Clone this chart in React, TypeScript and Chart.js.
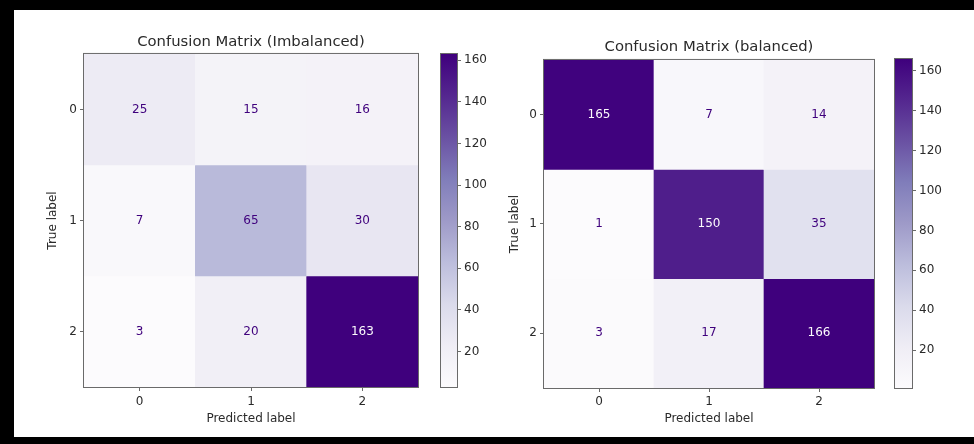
import React, { useEffect, useRef } from 'react';
import { Chart, registerables } from 'chart.js';

Chart.register(...registerables);

// ---------- data ----------
const classLabels = ['0', '1', '2'];

const imbalancedRow0 = [25, 15, 16];
const imbalancedRow1 = [7, 65, 30];
const imbalancedRow2 = [3, 20, 163];

const balancedRow0 = [165, 7, 14];
const balancedRow1 = [1, 150, 35];
const balancedRow2 = [3, 17, 166];

const colorbarTicks = [20, 40, 60, 80, 100, 120, 140, 160];

const imbalancedTitle = 'Confusion Matrix (Imbalanced)';
const balancedTitle = 'Confusion Matrix (balanced)';
const xAxisTitle = 'Predicted label';
const yAxisTitle = 'True label';

// ---------- styling ----------
const FONT = '"DejaVu Sans", "Liberation Sans", sans-serif';
const TXT = '#2a2a2a';
const AXIS = '#6a6a6a';
const PURPLES = ['#fcfbfd', '#efedf5', '#dadaeb', '#bcbddc', '#9e9ac8', '#807dba', '#6a51a3', '#54278f', '#3f007d'];

function hexToRgb(h: string) {
  const n = parseInt(h.slice(1), 16);
  return [(n >> 16) & 255, (n >> 8) & 255, n & 255];
}

function purples(t: number) {
  const tt = Math.max(0, Math.min(1, t));
  const s = tt * (PURPLES.length - 1);
  const i = Math.min(Math.floor(s), PURPLES.length - 2);
  const f = s - i;
  const a = hexToRgb(PURPLES[i]);
  const b = hexToRgb(PURPLES[i + 1]);
  const c = a.map((v, k) => Math.round(v + (b[k] - v) * f));
  return `rgb(${c[0]},${c[1]},${c[2]})`;
}

const framePlugin = {
  id: 'frame',
  afterDraw(chart: any) {
    const { ctx, chartArea } = chart;
    const { left, top, right, bottom } = chartArea;
    ctx.save();
    ctx.strokeStyle = AXIS;
    ctx.lineWidth = 1;
    ctx.strokeRect(left - 0.5, top - 0.5, right - left + 1, bottom - top + 1);
    ctx.restore();
  },
};

type HeatLayout = {
  left: number;
  top: number;
  width: number;
  height: number;
  yWidth: number;
  xHeight: number;
  padRight: number;
  titleTop: number;
  titleBottom: number;
  yTitlePad: number;
  xTitlePad: number;
  xTickPad: number;
};

function Heatmap({ rows, title, L }: { rows: number[][]; title: string; L: HeatLayout }) {
  const ref = useRef<HTMLCanvasElement | null>(null);
  useEffect(() => {
    if (!ref.current) return;
    const all = rows.flat();
    const vmin = Math.min(...all);
    const vmax = Math.max(...all);
    const thresh = (vmin + vmax) / 2;
    const datasets = rows.map((row, r) => ({
      data: row.map(() => [r - 0.5, r + 0.5]),
      backgroundColor: row.map((v) => purples((v - vmin) / (vmax - vmin))),
      grouped: false,
      barPercentage: 1,
      categoryPercentage: 1,
      borderWidth: 0,
    }));
    const cellText = {
      id: 'cellText',
      afterDatasetsDraw(chart: any) {
        const { ctx } = chart;
        const xs = chart.scales.x;
        const ys = chart.scales.y;
        ctx.save();
        ctx.font = `12px ${FONT}`;
        ctx.textAlign = 'center';
        ctx.textBaseline = 'middle';
        rows.forEach((row, r) =>
          row.forEach((v, c) => {
            ctx.fillStyle = v > thresh ? PURPLES[0] : PURPLES[8];
            ctx.fillText(String(v), xs.getPixelForValue(c), ys.getPixelForValue(r));
          })
        );
        ctx.restore();
      },
    };
    const chart = new Chart(ref.current, {
      type: 'bar',
      data: { labels: classLabels, datasets: datasets as any },
      options: {
        animation: false,
        responsive: false,
        maintainAspectRatio: false,
        layout: { padding: { left: 0, top: 0, right: L.padRight, bottom: 0 } },
        plugins: {
          legend: { display: false },
          tooltip: { enabled: false },
          title: {
            display: true,
            fullSize: false,
            text: title,
            color: TXT,
            font: { family: FONT, size: 14.8, weight: 'normal', lineHeight: 1.2 },
            padding: { top: L.titleTop, bottom: L.titleBottom },
          },
        },
        scales: {
          x: {
            type: 'category',
            offset: true,
            grid: { display: true, drawOnChartArea: false, drawTicks: true, tickLength: 4, color: AXIS, offset: false },
            border: { display: false },
            ticks: { color: TXT, font: { family: FONT, size: 12 }, padding: L.xTickPad, maxRotation: 0 },
            title: {
              display: true,
              text: xAxisTitle,
              color: TXT,
              font: { family: FONT, size: 12, lineHeight: 1.2 },
              padding: { top: 0, bottom: L.xTitlePad },
            },
            afterFit: (s: any) => {
              s.height = L.xHeight;
            },
          },
          y: {
            type: 'linear',
            min: -0.5,
            max: 2.5,
            reverse: true,
            afterBuildTicks: (s: any) => {
              s.ticks = classLabels.map((_, i) => ({ value: i }));
            },
            grid: { display: true, drawOnChartArea: false, drawTicks: true, tickLength: 4, color: AXIS },
            border: { display: false },
            ticks: {
              color: TXT,
              font: { family: FONT, size: 12 },
              padding: 3,
              callback: (v: any) => classLabels[Math.round(Number(v))],
            },
            title: {
              display: true,
              text: yAxisTitle,
              color: TXT,
              font: { family: FONT, size: 12, lineHeight: 1.2 },
              padding: { top: L.yTitlePad, bottom: 0 },
            },
            afterFit: (s: any) => {
              s.width = L.yWidth;
            },
          },
        },
      } as any,
      plugins: [cellText, framePlugin],
    });
    return () => chart.destroy();
  }, [rows, title, L]);
  return (
    <canvas
      ref={ref}
      width={L.width}
      height={L.height}
      style={{ position: 'absolute', left: L.left, top: L.top, width: L.width, height: L.height, display: 'block' }}
    />
  );
}

type BarLayout = {
  left: number;
  top: number;
  width: number;
  height: number;
  padLeft: number;
  padTop: number;
  padBottom: number;
  yWidth: number;
};

function Colorbar({ rows, L }: { rows: number[][]; L: BarLayout }) {
  const ref = useRef<HTMLCanvasElement | null>(null);
  useEffect(() => {
    if (!ref.current) return;
    const all = rows.flat();
    const vmin = Math.min(...all);
    const vmax = Math.max(...all);
    const chart = new Chart(ref.current, {
      type: 'bar',
      data: {
        labels: [''],
        datasets: [
          {
            data: [[vmin, vmax]],
            backgroundColor: (c: any) => {
              const ch = c.chart;
              const ys = ch.scales && ch.scales.y;
              if (!ch.chartArea || !ys) return PURPLES[4];
              const g = ch.ctx.createLinearGradient(0, ys.getPixelForValue(vmin), 0, ys.getPixelForValue(vmax));
              PURPLES.forEach((col, i) => g.addColorStop(i / (PURPLES.length - 1), col));
              return g;
            },
            barPercentage: 1,
            categoryPercentage: 1,
            borderWidth: 0,
          },
        ] as any,
      },
      options: {
        animation: false,
        responsive: false,
        maintainAspectRatio: false,
        layout: { padding: { left: L.padLeft, top: L.padTop, right: 0, bottom: L.padBottom } },
        plugins: { legend: { display: false }, tooltip: { enabled: false }, title: { display: false } },
        scales: {
          x: { display: false },
          y: {
            type: 'linear',
            position: 'right',
            min: vmin,
            max: vmax,
            afterBuildTicks: (s: any) => {
              s.ticks = colorbarTicks.map((v) => ({ value: v }));
            },
            grid: { display: true, drawOnChartArea: false, drawTicks: true, tickLength: 4, color: AXIS },
            border: { display: false },
            ticks: { color: TXT, font: { family: FONT, size: 12 }, padding: 3 },
            afterFit: (s: any) => {
              s.width = L.yWidth;
            },
          },
        },
      } as any,
      plugins: [framePlugin],
    });
    return () => chart.destroy();
  }, [rows, L]);
  return (
    <canvas
      ref={ref}
      width={L.width}
      height={L.height}
      style={{ position: 'absolute', left: L.left, top: L.top, width: L.width, height: L.height, display: 'block' }}
    />
  );
}

const imbalancedRows = [imbalancedRow0, imbalancedRow1, imbalancedRow2];
const balancedRows = [balancedRow0, balancedRow1, balancedRow2];

const leftHeat: HeatLayout = {
  left: 14, top: 10, width: 422, height: 427,
  yWidth: 70, xHeight: 50, padRight: 18,
  titleTop: 23.1, titleBottom: 3.1,
  yTitlePad: 32.1, xTitlePad: 10.8, xTickPad: 3.8,
};
const rightHeat: HeatLayout = {
  left: 470, top: 10, width: 420, height: 427,
  yWidth: 74, xHeight: 49, padRight: 16,
  titleTop: 28.1, titleBottom: 4.1,
  yTitlePad: 37.8, xTitlePad: 11.1, xTickPad: 2.8,
};
const leftBar: BarLayout = { left: 436, top: 10, width: 64, height: 427, padLeft: 5, padTop: 44, padBottom: 50, yWidth: 43 };
const rightBar: BarLayout = { left: 890, top: 10, width: 84, height: 427, padLeft: 5, padTop: 49, padBottom: 49, yWidth: 62 };

export default function App() {
  return (
    <div style={{ position: 'absolute', left: 0, top: 0, width: 974, height: 444, background: '#000', overflow: 'hidden' }}>
      <div style={{ position: 'absolute', left: 14, top: 10, width: 960, height: 427, background: '#fff' }} />
      <Heatmap rows={imbalancedRows} title={imbalancedTitle} L={leftHeat} />
      <Colorbar rows={imbalancedRows} L={leftBar} />
      <Heatmap rows={balancedRows} title={balancedTitle} L={rightHeat} />
      <Colorbar rows={balancedRows} L={rightBar} />
    </div>
  );
}
